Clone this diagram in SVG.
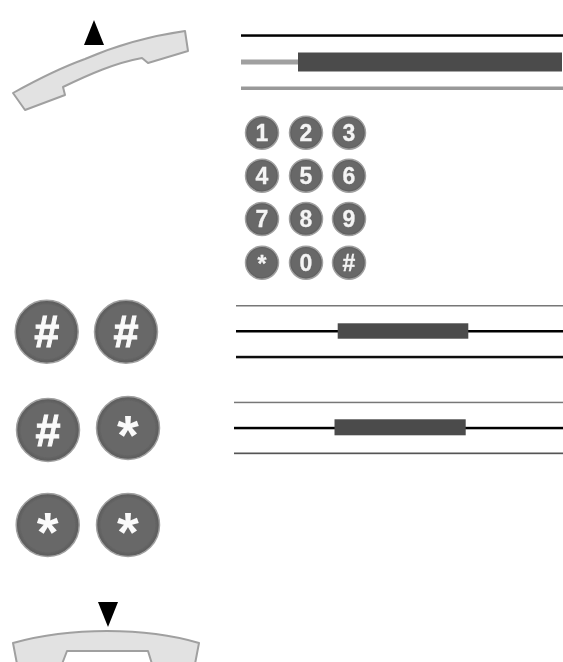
<svg xmlns="http://www.w3.org/2000/svg" width="563" height="662" viewBox="0 0 563 662">
<style>
.btn{fill:url(#face);stroke:#a0a0a0;stroke-width:1.5}
.hs{fill:#e2e2e2;stroke:#a0a0a0;stroke-width:2;stroke-linejoin:round}
.bar{fill:#4b4b4b}
.k{font-family:"Liberation Sans",Arial,sans-serif;font-weight:700;font-size:23px;fill:#f4f4f4;text-anchor:middle;stroke:#f4f4f4;stroke-width:.3}
.K{font-family:"Liberation Sans",Arial,sans-serif;font-weight:700;font-size:45px;fill:#fafafa;text-anchor:middle;stroke:#fafafa;stroke-width:1}
.S{font-family:"Liberation Sans",Arial,sans-serif;font-weight:700;font-size:56px;fill:#fafafa;text-anchor:middle}
</style>
<defs>
<filter id="soft" x="-5%" y="-5%" width="110%" height="110%"><feGaussianBlur stdDeviation="0.55"/></filter>
<radialGradient id="face" cx="0.5" cy="0.5" r="0.5"><stop offset="0.85" stop-color="#676767"/><stop offset="1" stop-color="#5a5a5a"/></radialGradient>
</defs>
<rect width="563" height="662" fill="#fff"/>
<g filter="url(#soft)">
<g id="handset-up">
<path class="hs" d="M13 93C40 78 60 68 85 59C115 46 150 36 185 31L188 51L148 63L142 58C115 63 90 74 63 87L65 95L25 110Z"/>
<path d="M94 20L84 45H104Z" fill="#000"/>
</g>
<g id="tone-1">
<rect x="241" y="34.3" width="322" height="2.5" fill="#000"/>
<rect x="241" y="59.5" width="57" height="5" fill="#a0a0a0"/>
<rect class="bar" x="298" y="52.5" width="264" height="19"/>
<rect x="241" y="86.5" width="322" height="3.5" fill="#999"/>
</g>
<g id="keypad">
<circle class="btn" cx="262" cy="132.7" r="16.5"/><circle class="btn" cx="306" cy="132.7" r="16.5"/><circle class="btn" cx="349" cy="132.7" r="16.5"/>
<circle class="btn" cx="262" cy="175.7" r="16.5"/><circle class="btn" cx="306" cy="175.7" r="16.5"/><circle class="btn" cx="349" cy="175.7" r="16.5"/>
<circle class="btn" cx="262" cy="219" r="16.5"/><circle class="btn" cx="306" cy="219" r="16.5"/><circle class="btn" cx="349" cy="219" r="16.5"/>
<circle class="btn" cx="262" cy="262.7" r="16.5"/><circle class="btn" cx="306" cy="262.7" r="16.5"/><circle class="btn" cx="349" cy="262.7" r="16.5"/>
<text class="k" x="262" y="140.7">1</text><text class="k" x="306" y="140.7">2</text><text class="k" x="349" y="140.7">3</text>
<text class="k" x="262" y="183.7">4</text><text class="k" x="306" y="183.7">5</text><text class="k" x="349" y="183.7">6</text>
<text class="k" x="262" y="227">7</text><text class="k" x="306" y="227">8</text><text class="k" x="349" y="227">9</text>
<text class="k" x="262" y="272">*</text><text class="k" x="306" y="270.7">0</text><text class="k" x="349" y="270.7">#</text>
</g>
<g id="key-hash-hash">
<circle class="btn" cx="46.7" cy="331.7" r="31.5"/><text class="K" x="46.7" y="347">#</text>
<circle class="btn" cx="126" cy="331.7" r="31.5"/><text class="K" x="126" y="347">#</text>
</g>
<g id="tone-2">
<rect x="236" y="305" width="327" height="1.5" fill="#777"/>
<rect x="236" y="330" width="327" height="2.5" fill="#000"/>
<rect class="bar" x="337.7" y="323.3" width="130.6" height="15.4"/>
<rect x="236" y="355.8" width="327" height="2.5" fill="#111"/>
</g>
<g id="key-hash-star">
<circle class="btn" cx="48" cy="430" r="31.5"/><text class="K" x="48" y="445.5">#</text>
<circle class="btn" cx="128" cy="428" r="31.5"/><text class="S" x="128" y="454">*</text>
</g>
<g id="tone-3">
<rect x="234" y="401.7" width="329" height="1.5" fill="#777"/>
<rect x="234" y="426.8" width="329" height="2.5" fill="#000"/>
<rect class="bar" x="334.5" y="419.3" width="131.2" height="16"/>
<rect x="234" y="452.5" width="329" height="1.7" fill="#555"/>
</g>
<g id="key-star-star">
<circle class="btn" cx="47.7" cy="525" r="31.5"/><text class="S" x="47.7" y="551">*</text>
<circle class="btn" cx="128" cy="525" r="31.5"/><text class="S" x="128" y="551">*</text>
</g>
<g id="handset-down">
<path class="hs" d="M13 643C70 627 145 627 199 643L195 664H152L148 651H67L62 664H17Z"/>
<path d="M98 602H118L108 627Z" fill="#000"/>
</g>
</g>
</svg>
